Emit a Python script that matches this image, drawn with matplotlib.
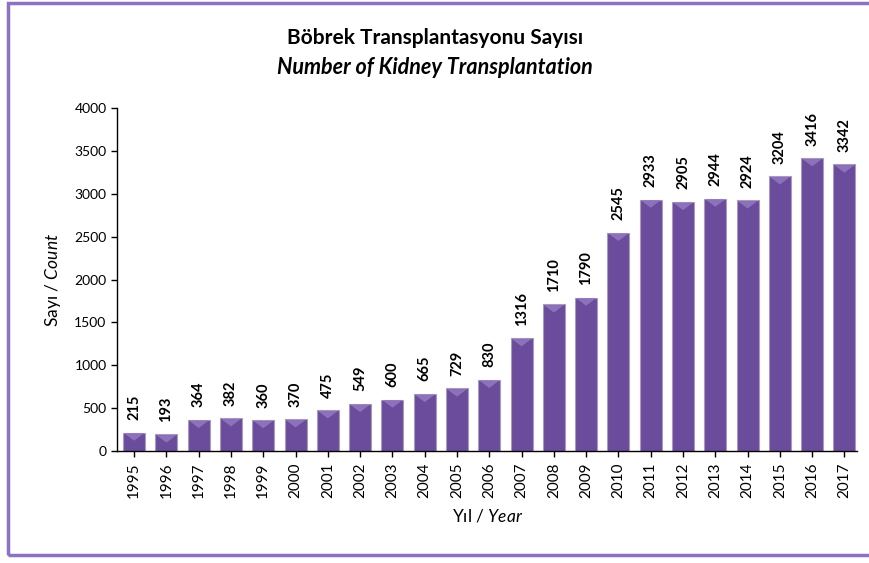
import matplotlib
matplotlib.use('Agg')
import numpy as np
import matplotlib.pyplot as plt
from matplotlib.patches import Rectangle, Polygon

# veri
years = [str(y) for y in range(1995, 2018)]
counts = [215, 193, 364, 382, 360, 370, 475, 549, 600, 665, 729, 830,
          1316, 1710, 1790, 2545, 2933, 2905, 2944, 2924, 3204, 3416, 3342]
yticks = [0, 500, 1000, 1500, 2000, 2500, 3000, 3500, 4000]

title_tr = 'Böbrek Transplantasyonu Sayısı'
title_en = 'Number of Kidney Transplantation'

plt.rcParams.update({
    'font.family': ['Lato', 'DejaVu Sans'],
    'mathtext.fontset': 'custom',
    'mathtext.it': 'Lato:italic',
    'mathtext.rm': 'Lato',
})

bar_color = '#6b4c9c'
frame_color = '#8c72c0'
bar_w = 0.68

fig = plt.figure(figsize=(8.7, 5.63), dpi=100)
ax = fig.add_axes([0.1345, 0.199, 0.851, 0.609])

x = np.arange(len(years))
ax.bar(x, counts, width=bar_w, color=bar_color, edgecolor='#a79cba', linewidth=0.8, zorder=2)
# hafif üçgen parlama (bar üstü)
for xi, c in zip(x, counts):
    tri = Polygon([[xi - bar_w / 2 + 0.03, c - 8], [xi + bar_w / 2 - 0.03, c - 8], [xi, c - 95]],
                  closed=True, facecolor='#8d72bb', edgecolor='none', zorder=3)
    ax.add_patch(tri)

for xi, c in zip(x, counts):
    ax.annotate(str(c), (xi, c), xytext=(0, 9), textcoords='offset points',
                rotation=90, ha='center', va='bottom', fontsize=10.5, fontweight='bold')

ax.set_xlim(-0.53, 22.4)
ax.set_ylim(0, 4000)
ax.set_yticks(yticks)
ax.set_yticklabels([str(t) for t in yticks], fontsize=10)
ax.set_xticks(x)
ax.set_xticklabels(years, rotation=90, fontsize=11)
ax.tick_params(axis='both', direction='out', length=4, width=1, colors='black')
ax.tick_params(axis='x', pad=4)
for s in ['top', 'right']:
    ax.spines[s].set_visible(False)
for s in ['left', 'bottom']:
    ax.spines[s].set_linewidth(1)

ax.set_ylabel('Sayı / $\\it{Count}$', fontsize=12.5, labelpad=8)
ax.set_xlabel('Yıl / $\\it{Year}$', fontsize=12.5, labelpad=7)

fig.text(0.5, 0.932, title_tr, ha='center', va='center', fontsize=15, fontweight='bold')
fig.text(0.5, 0.880, title_en, ha='center', va='center', fontsize=15.5,
         fontweight='bold', fontstyle='italic')

# mor çerçeve
fig.patches.append(Rectangle((0.009, 0.014), 1.2, 0.98, transform=fig.transFigure,
                             fill=False, edgecolor=frame_color, linewidth=2.5))

fig.savefig('out.png', dpi=100)
